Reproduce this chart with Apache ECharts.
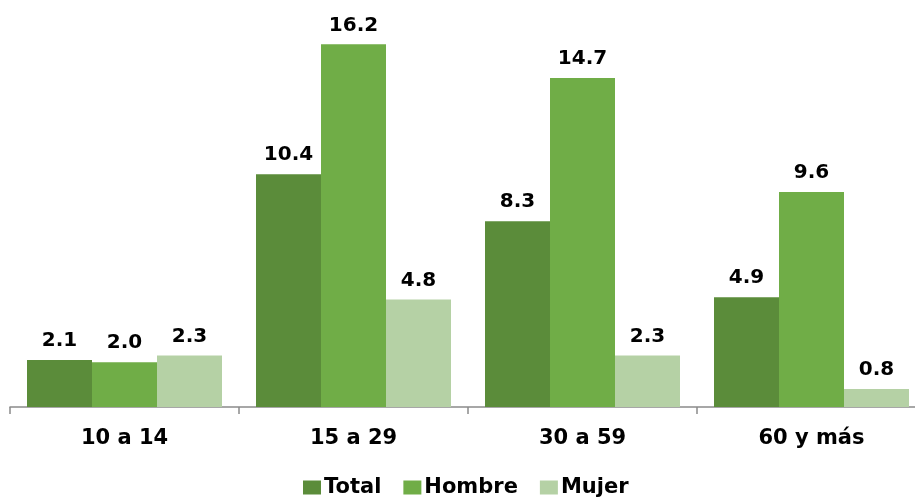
<!DOCTYPE html>
<html><head><meta charset="utf-8">
<script src="https://cdn.jsdelivr.net/npm/echarts@6/dist/echarts.min.js"></script>
<style>html,body{margin:0;padding:0;background:#fff;overflow:hidden;width:915px;height:500px}#c{width:926px;height:500px}</style>
</head><body><div id="c"></div>
<script>
const categories = ['10 a 14', '15 a 29', '30 a 59', '60 y más'];
const seriesNames = ['Total', 'Hombre', 'Mujer'];
const totalValues = [2.1, 10.4, 8.3, 4.9];
const hombreValues = [2.0, 16.2, 14.7, 9.6];
const mujerValues = [2.3, 4.8, 2.3, 0.8];
const colors = ['#5B8C3A', '#70AD47', '#B5D1A5'];

const font = 'DejaVu Sans';
const chart = echarts.init(document.getElementById('c'));
const mk = (name, data, color) => ({
  name, type: 'bar', data, barWidth: 65, barGap: '0%',
  itemStyle: { color },
  label: { show: true, position: 'top', distance: 9, formatter: p => p.value.toFixed(1),
    color: '#000', fontFamily: font, fontWeight: 'bold', fontSize: 20 }
});
chart.setOption({
  animation: false,
  grid: { left: 10, right: 0, top: 4, bottom: 93, containLabel: false },
  legend: { left: 298, top: 472, itemWidth: 18, itemHeight: 14, itemGap: 22, icon: 'rect',
    textStyle: { fontFamily: font, fontWeight: 'bold', fontSize: 21, color: '#000', padding: [0,0,0,-2] },
    data: seriesNames },
  xAxis: { type: 'category', data: categories,
    axisLine: { lineStyle: { color: '#8a8a8a', width: 1.5 } },
    axisTick: { show: true, length: 7, lineStyle: { color: '#8a8a8a', width: 1.5 } },
    axisLabel: { margin: 21, color: '#000', fontFamily: font, fontWeight: 'bold', fontSize: 21 } },
  yAxis: { type: 'value', min: 0, max: 18, show: false, splitLine: { show: false } },
  series: [ mk(seriesNames[0], totalValues, colors[0]), mk(seriesNames[1], hombreValues, colors[1]), mk(seriesNames[2], mujerValues, colors[2]) ]
});
</script></body></html>
